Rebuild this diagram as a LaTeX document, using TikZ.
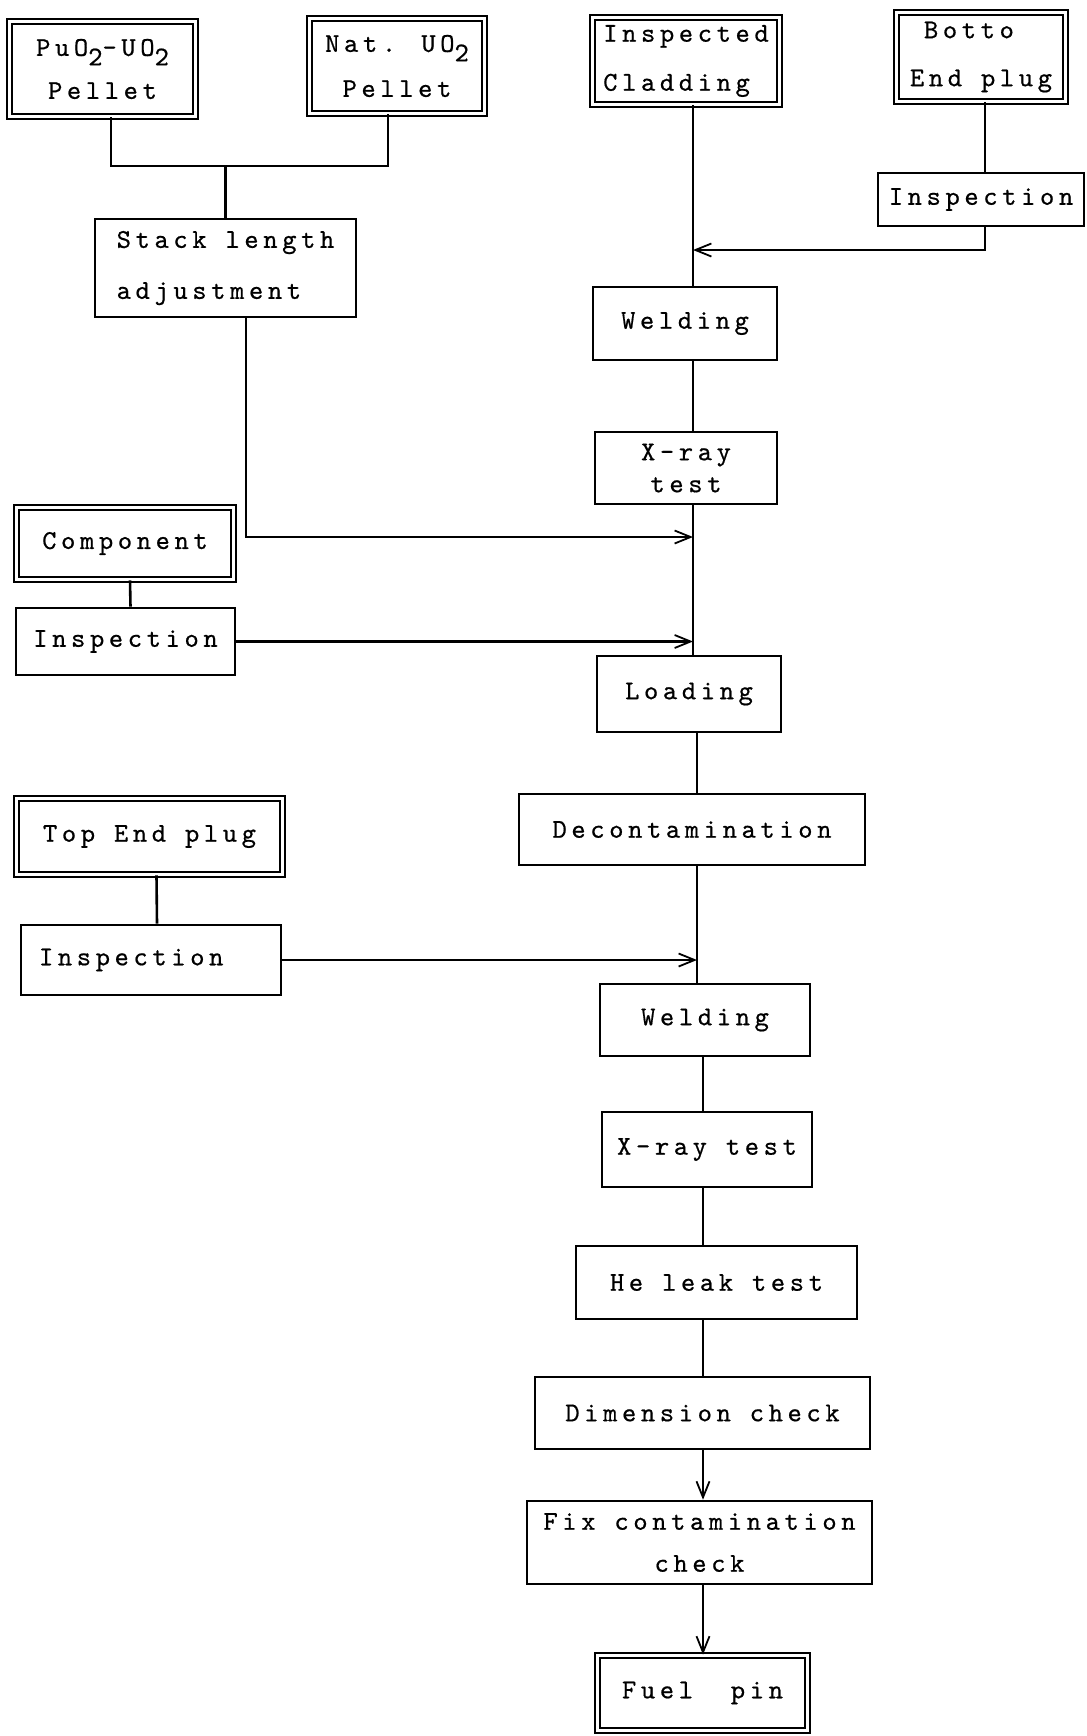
\documentclass[tikz,border=0pt]{standalone}
\usepackage{fontspec}
\usetikzlibrary{arrows.meta,calc}
\newfontfamily\tw{lmmono10-regular.otf}[LetterSpace=17,FakeBold=0.6]
\newcommand\lowtwo{\raisebox{-0.35em}{2}}
\begin{document}
\begin{tikzpicture}[x=0.5pt,y=-0.5pt,
  lsk/.style={font=\fontsize{13.6pt}{#1}\tw},
  lsk/.default=22pt,
  box/.style={draw, line width=1.3pt, inner sep=0pt, align=center, lsk},
  dbox/.style={draw, double, line width=1pt, double distance=1.7pt, inner sep=0pt, align=center, lsk},
  ln/.style={line width=1.3pt},
  arr/.style={line width=1.3pt, -{Straight Barb[length=8pt,width=6.5pt,line width=0.9pt]}}]
\fill[white] (0,0) rectangle (1087,1736);
\useasboundingbox (0,0) rectangle (1087,1736);

% top-left inputs
\node[dbox, minimum width=92.9pt, minimum height=47.4pt, lsk=21.5pt] (pu) at (102.5,69) {PuO\lowtwo-UO\lowtwo\\Pellet};
\node[dbox, minimum width=87.4pt, minimum height=47.4pt, lsk=22.5pt] (nat) at (397,66) {Nat. UO\lowtwo\\Pellet};
\node[box, minimum width=130.5pt, minimum height=49pt, align=left, lsk=25.5pt] (stack) at (225.5,268) {Stack length\\adjustment};

% top-right inputs
\node[dbox, minimum width=93.4pt, minimum height=43.4pt, align=left, lsk=24.5pt] (clad) at (686,61) {Inspected\\Cladding};
\node[dbox, minimum width=84.4pt, minimum height=44.4pt, align=left, lsk=24pt] (bot) at (981,57) {\hspace*{7pt}Botto\\End plug};
\node[box, minimum width=103pt, minimum height=26.5pt] (insA) at (981,199.5) {Inspection};

% main column
\node[box, minimum width=92pt, minimum height=36.5pt] (weld1) at (685,323.5) {Welding};
\node[box, minimum width=91pt, minimum height=36pt, lsk=16pt] (xray1) at (686,468) {X-ray\\test};
\node[box, minimum width=92pt, minimum height=38pt] (load) at (689,694) {Loading};
\node[box, minimum width=173pt, minimum height=35.5pt] (decon) at (692,829.5) {Decontamination};
\node[box, minimum width=105pt, minimum height=36pt] (weld2) at (705,1020) {Welding};
\node[box, minimum width=105pt, minimum height=37.5pt] (xray2) at (707,1149.5) {X-ray test};
\node[box, minimum width=140.5pt, minimum height=36.5pt] (he) at (716.5,1282.5) {He leak test};
\node[box, minimum width=167.5pt, minimum height=36pt] (dim) at (702.5,1413) {Dimension check};
\node[box, minimum width=172.5pt, minimum height=41.5pt, lsk=21pt] (fix) at (699.5,1542.5) {Fix contamination\\check};
\node[dbox, minimum width=104.9pt, minimum height=37.4pt] (fuel) at (702.5,1693) {Fuel\ \ pin};

% left inputs
\node[dbox, minimum width=108.4pt, minimum height=35.9pt] (comp) at (125,543.5) {Component};
\node[box, minimum width=109.5pt, minimum height=33.5pt] (insB) at (125.5,641.5) {Inspection};
\node[dbox, minimum width=132.9pt, minimum height=37.9pt] (top) at (149.5,836.5) {Top End plug};
\node[box, text width=112pt, inner xsep=9pt, align=left, minimum height=35pt] (insC) at (151,960) {Inspection};

% spine coordinates
\coordinate (sA) at (693,0);
\coordinate (sB) at (697,0);
\coordinate (sC) at (703,0);
\coordinate (jt) at (225.5,166);
\coordinate (j0) at (693,250);
\coordinate (j1) at (693,537);

% pellet merge
\draw[ln] ([xshift=4.25pt]pu.south) |- (jt) -| ([xshift=-4.5pt]nat.south);
\draw[ln] (jt) -- (stack.north);

% end plug
\draw[ln] ([xshift=2pt]bot.south) -- ([xshift=2pt]insA.north);
\draw[arr] ([xshift=2pt]insA.south) |- (j0);

% spine
\draw[ln] (clad.south -| sA) -- (weld1.north -| sA);
\draw[ln] (weld1.south -| sA) -- (xray1.north -| sA);
\draw[ln] (xray1.south -| sA) -- (load.north -| sA);
\draw[ln] (load.south -| sB) -- (decon.north -| sB);
\draw[ln] (decon.south -| sB) -- (weld2.north -| sB);
\draw[ln] (weld2.south -| sC) -- (xray2.north -| sC);
\draw[ln] (xray2.south -| sC) -- (he.north -| sC);
\draw[ln] (he.south -| sC) -- (dim.north -| sC);
\draw[arr] (dim.south -| sC) -- (fix.north -| sC);
\draw[arr] (fix.south -| sC) -- (fuel.north -| sC);

% side feeds
\draw[arr] ([xshift=10.25pt]stack.south) |- (j1);
\draw[ln] ([xshift=2.5pt]comp.south) -- ([xshift=2.5pt]insB.north);
\draw[arr] (insB.east) -- (insB.east -| sA);
\draw[ln] ([xshift=3.5pt]top.south) -- ([xshift=3pt]insC.north);
\draw[arr] (insC.east) -- (insC.east -| sB);
\end{tikzpicture}
\end{document}
